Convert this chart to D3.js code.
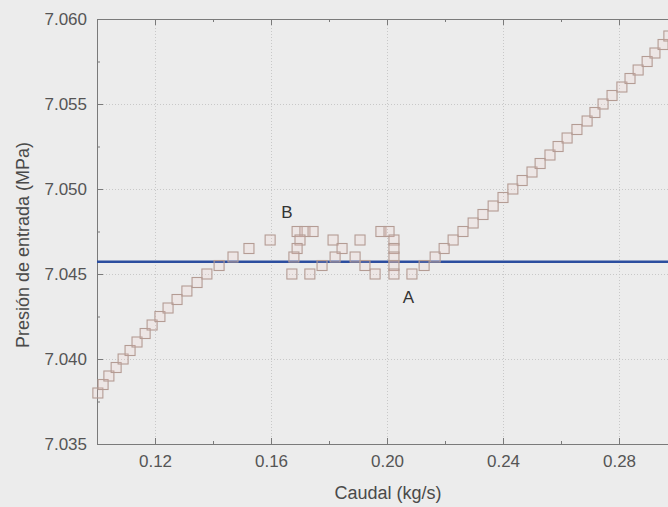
<!DOCTYPE html>
<html>
<head>
<meta charset="utf-8">
<script src="https://cdn.jsdelivr.net/npm/d3@7"></script>
<style>
  html, body { margin: 0; padding: 0; background: #ececec; }
  svg { display: block; }
</style>
</head>
<body>
<script>
// Data
const caudal = [
  0.1003, 0.1021, 0.1041, 0.1066, 0.1090, 0.1114, 0.1138, 0.1166, 0.1190, 0.1217,
  0.1245, 0.1276, 0.1310, 0.1345, 0.1379, 0.1421, 0.1469, 0.1524, 0.1597,
  0.1690, 0.1717, 0.1745, 0.1700, 0.1690, 0.1679, 0.1672, 0.1734, 0.1776,
  0.1814, 0.1845, 0.1821, 0.1890, 0.1907, 0.1924, 0.1959,
  0.1979, 0.2007, 0.2024, 0.2024, 0.2024, 0.2024, 0.2024, 0.2086, 0.2128, 0.2166,
  0.2197, 0.2228, 0.2262, 0.2297, 0.2331, 0.2366, 0.2400, 0.2434, 0.2466, 0.2500,
  0.2528, 0.2562, 0.2590, 0.2621, 0.2655, 0.2690, 0.2717, 0.2745, 0.2776, 0.2810,
  0.2838, 0.2866, 0.2897, 0.2924, 0.2952, 0.2972
];
const presion = [
  7.0380, 7.0385, 7.0390, 7.0395, 7.0400, 7.0405, 7.0410, 7.0415, 7.0420, 7.0425,
  7.0430, 7.0435, 7.0440, 7.0445, 7.0450, 7.0455, 7.0460, 7.0465, 7.0470,
  7.0475, 7.0475, 7.0475, 7.0470, 7.0465, 7.0460, 7.0450, 7.0450, 7.0455,
  7.0470, 7.0465, 7.0460, 7.0460, 7.0470, 7.0455, 7.0450,
  7.0475, 7.0475, 7.0470, 7.0465, 7.0460, 7.0455, 7.0450, 7.0450, 7.0455, 7.0460,
  7.0465, 7.0470, 7.0475, 7.0480, 7.0485, 7.0490, 7.0495, 7.0500, 7.0505, 7.0510,
  7.0515, 7.0520, 7.0525, 7.0530, 7.0535, 7.0540, 7.0545, 7.0550, 7.0555, 7.0560,
  7.0565, 7.0570, 7.0575, 7.0580, 7.0585, 7.0590
];
const referencia = 7.04572;
const xTicks = [0.12, 0.16, 0.20, 0.24, 0.28];
const xMinor = [0.14, 0.18, 0.22, 0.26, 0.30];
const yTicks = [7.035, 7.040, 7.045, 7.050, 7.055, 7.060];
const yMinor = [7.0375, 7.0425, 7.0475, 7.0525, 7.0575];
const etiquetas = [
  { t: "B", x: 0.1655, y: 7.0483 },
  { t: "A", x: 0.2074, y: 7.0433 }
];

const W = 668, H = 507;
const FONT = "Liberation Sans, Arial, sans-serif";
const svg = d3.select("body").append("svg").attr("width", W).attr("height", H);
svg.append("rect").attr("width", W).attr("height", H).attr("fill", "#ececec");

const x = d3.scaleLinear().domain([0.10, 0.30]).range([97, 677]);
const y = d3.scaleLinear().domain([7.035, 7.060]).range([444, 19]);
const pLeft = 97, pRight = 677, pTop = 19, pBottom = 444;

// Grid
const grid = svg.append("g").attr("stroke", "#c8c8c8").attr("stroke-width", 1)
  .attr("stroke-dasharray", "1,2");
grid.selectAll(".gx").data(xTicks).enter().append("line")
  .attr("x1", d => Math.round(x(d)) + 0.5).attr("x2", d => Math.round(x(d)) + 0.5)
  .attr("y1", pTop).attr("y2", pBottom);
grid.selectAll(".gy").data(yTicks.slice(1, -1)).enter().append("line")
  .attr("y1", d => Math.round(y(d)) + 0.5).attr("y2", d => Math.round(y(d)) + 0.5)
  .attr("x1", pLeft).attr("x2", pRight);

// Axes (ticks inward)
const axStyle = g => {
  g.select(".domain").attr("stroke", "#7a7a7a");
  g.selectAll(".tick line").attr("stroke", "#7a7a7a");
  g.selectAll("text").attr("fill", "#555").attr("font-family", FONT).attr("font-size", "17px");
};
svg.append("g").attr("transform", `translate(0,${pBottom})`)
  .call(d3.axisBottom(x).tickValues(xTicks).tickFormat(d3.format(".2f")).tickSizeInner(-6).tickSizeOuter(0).tickPadding(11))
  .call(axStyle);
svg.append("g").attr("transform", `translate(0,${pBottom})`)
  .call(d3.axisBottom(x).tickValues(xMinor).tickFormat("").tickSizeInner(-3).tickSizeOuter(0))
  .call(axStyle).select(".domain").remove();
svg.append("g").attr("transform", `translate(0,${pTop})`)
  .call(d3.axisTop(x).tickValues(xTicks).tickFormat("").tickSizeInner(-6).tickSizeOuter(0))
  .call(axStyle);
svg.append("g").attr("transform", `translate(0,${pTop})`)
  .call(d3.axisTop(x).tickValues(xMinor).tickFormat("").tickSizeInner(-3).tickSizeOuter(0))
  .call(axStyle).select(".domain").remove();
svg.append("g").attr("transform", `translate(${pLeft},0)`)
  .call(d3.axisLeft(y).tickValues(yTicks).tickFormat(d3.format(".3f")).tickSizeInner(-6).tickSizeOuter(0).tickPadding(10))
  .call(axStyle);
svg.append("g").attr("transform", `translate(${pLeft},0)`)
  .call(d3.axisLeft(y).tickValues(yMinor).tickFormat("").tickSizeInner(-3).tickSizeOuter(0))
  .call(axStyle).select(".domain").remove();

// Reference line
svg.append("line")
  .attr("x1", pLeft).attr("x2", pRight)
  .attr("y1", y(referencia)).attr("y2", y(referencia))
  .attr("stroke", "#2c4e9f").attr("stroke-width", 2.5);

// Markers
const s = 10;
svg.append("g").selectAll("rect").data(caudal.map((c, i) => [c, presion[i]])).enter().append("rect")
  .attr("x", d => x(d[0]) - s / 2).attr("y", d => y(d[1]) - s / 2)
  .attr("width", s).attr("height", s)
  .attr("fill", "rgba(245,200,195,0.15)")
  .attr("stroke", "#b49c94").attr("stroke-width", 1.1);

// Labels A / B
svg.append("g").selectAll("text").data(etiquetas).enter().append("text")
  .attr("x", d => x(d.x)).attr("y", d => y(d.y))
  .attr("text-anchor", "middle")
  .attr("font-family", FONT).attr("font-size", "17px")
  .attr("fill", "#333").text(d => d.t);

// Axis titles
svg.append("text").attr("x", 388).attr("y", 499).attr("text-anchor", "middle")
  .attr("font-family", FONT).attr("font-size", "18px")
  .attr("fill", "#4a4a4a").text("Caudal (kg/s)");
svg.append("text").attr("transform", "translate(29,245) rotate(-90)").attr("text-anchor", "middle")
  .attr("font-family", FONT).attr("font-size", "18px")
  .attr("fill", "#4a4a4a").text("Presión de entrada (MPa)");
</script>
</body>
</html>
